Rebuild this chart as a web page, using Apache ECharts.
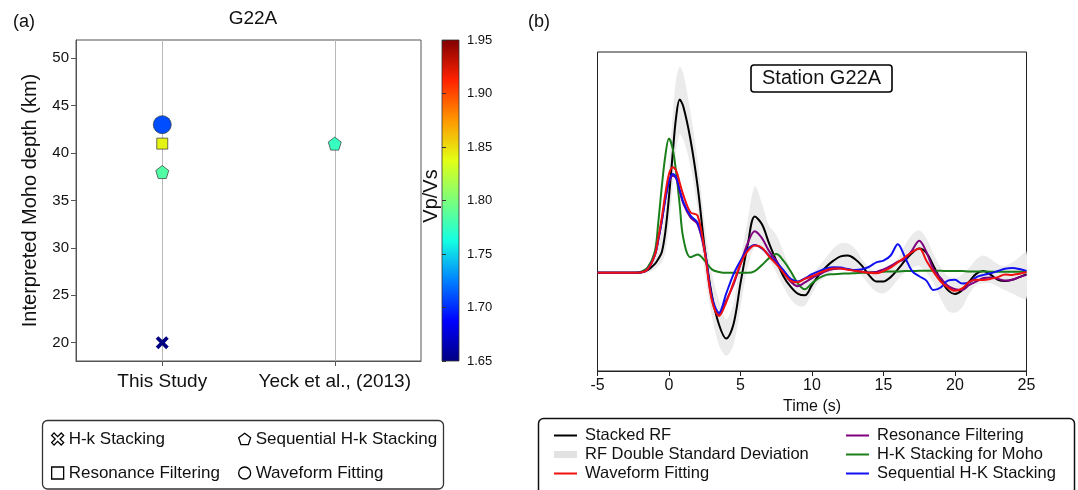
<!DOCTYPE html>
<html>
<head>
<meta charset="utf-8">
<title>G22A Moho depth and receiver functions</title>
<script src="https://cdn.jsdelivr.net/npm/echarts@6/dist/echarts.min.js"></script>
<style>
  html, body { margin: 0; padding: 0; background: #fff; }
  #chart { width: 1078px; height: 490px; }
</style>
</head>
<body>
<div id="chart"></div>
<script>
// ---- panel (a): Moho depth estimates at G22A ----
const studies = ['This Study', 'Yeck et al., (2013)'];
const methods = ['H-k Stacking', 'Resonance Filtering', 'Sequential H-k Stacking', 'Waveform Fitting'];
const mohoThisStudy = [20, 41, 38, 43];
const vpvsThisStudy = [1.65, 1.842, 1.785, 1.71];
const mohoYeck = [41];
const vpvsYeck = [1.775];
const depthTicks = [20, 25, 30, 35, 40, 45, 50];
const vpvsTicks = [1.65, 1.70, 1.75, 1.80, 1.85, 1.90, 1.95];

// ---- panel (b): receiver functions ----
const timeS = [-5, -2.5, -2, -1.5, -1, -0.75, -0.5, -0.25, 0, 0.25, 0.5, 0.75, 1,
  1.5, 2, 2.5, 3, 3.5, 4, 4.5, 5,
  5.5, 6, 6.5, 7, 7.5, 8, 8.5, 9, 9.5, 10,
  10.5, 11, 11.5, 12, 12.5, 13, 13.5, 14, 14.5, 15,
  15.5, 16, 16.5, 17, 17.5, 18, 18.5, 19, 19.5, 20,
  20.5, 21, 21.5, 22, 22.5, 23, 23.5, 24, 24.5, 25];

const stackedRF = [0, 0, 0.003, 0.015, 0.05, 0.08, 0.12, 0.24, 0.44, 0.68, 0.9, 1.0, 0.96,
  0.77, 0.5, 0.14, -0.13, -0.3, -0.38, -0.3, -0.06,
  0.16, 0.325, 0.28, 0.17, 0.07, -0.02, -0.08, -0.12, -0.13, -0.07,
  -0.01, 0.035, 0.07, 0.095, 0.1, 0.08, 0.04, -0.015, -0.05, -0.05,
  -0.025, 0.02, 0.07, 0.115, 0.14, 0.115, 0.04, -0.04, -0.1, -0.122,
  -0.1, -0.05, -0.005, 0.01, -0.012, -0.04, -0.047, -0.04, -0.025, -0.008];

const waveformFit = [0, 0, 0.002, 0.02, 0.1, 0.2, 0.32, 0.46, 0.57, 0.61, 0.59, 0.52, 0.45,
  0.35, 0.33, 0.12, -0.16, -0.25, -0.17, -0.06, 0.05,
  0.125, 0.158, 0.145, 0.095, 0.05, 0.0, -0.045, -0.055, -0.035, -0.02,
  0.0, 0.015, 0.025, 0.025, 0.018, 0.012, 0.006, 0.0, -0.003, 0.01,
  0.03, 0.06, 0.09, 0.12, 0.14, 0.07, 0.005, -0.05, -0.085, -0.104,
  -0.09, -0.052, -0.04, -0.042, -0.035, -0.025, -0.01, -0.012, -0.005, 0.005];

const resonanceFilt = [0, 0, 0.002, 0.02, 0.1, 0.19, 0.3, 0.43, 0.52, 0.56, 0.545, 0.47, 0.4,
  0.32, 0.28, 0.12, -0.15, -0.24, -0.16, -0.07, 0.05,
  0.17, 0.24, 0.2, 0.125, 0.07, 0.005, -0.05, -0.077, -0.055, -0.03,
  -0.01, 0.01, 0.022, 0.025, 0.02, 0.012, 0.006, 0.002, 0.005, 0.02,
  0.04, 0.064, 0.08, 0.13, 0.185, 0.12, 0.02, -0.03, -0.075, -0.095,
  -0.1, -0.07, -0.05, -0.03, -0.027, -0.035, -0.045, -0.04, -0.025, -0.012];

const hkMoho = [0, 0, 0.005, 0.03, 0.12, 0.29, 0.5, 0.68, 0.775, 0.72, 0.58, 0.39, 0.2,
  0.09, 0.106, 0.07, 0.02, 0.005, 0, 0, 0,
  0, 0.01, 0.045, 0.085, 0.108, 0.07, 0.01, -0.06, -0.095, -0.06,
  -0.03, -0.012, -0.008, -0.005, -0.004, -0.002, 0, 0.002, 0.004, 0.006,
  0.008, 0.008, 0.01, 0.01, 0.012, 0.012, 0.012, 0.012, 0.01, 0.01,
  0.01, 0.008, 0.008, 0.008, 0.006, 0.006, 0.006, 0.006, 0.006, 0.006];

const seqHk = [0, 0, 0.002, 0.02, 0.1, 0.19, 0.3, 0.43, 0.53, 0.57, 0.55, 0.48, 0.41,
  0.33, 0.29, 0.13, -0.14, -0.23, -0.12, -0.01, 0.07,
  0.135, 0.16, 0.14, 0.1, 0.06, 0.015, -0.035, -0.05, -0.032, -0.008,
  0.01, 0.025, 0.032, 0.03, 0.022, 0.016, 0.02, 0.035, 0.06, 0.07,
  0.1, 0.165, 0.09, 0.01, -0.02, -0.045, -0.1, -0.085, -0.045, -0.04,
  -0.062, -0.055, -0.025, -0.012, -0.003, 0.01, 0.024, 0.028, 0.022, 0.01];

const bandLower = [0, 0, -0.005, 0.0, 0.02, 0.04, 0.06, 0.12, 0.28, 0.48, 0.7, 0.8, 0.77,
  0.62, 0.36, 0.0, -0.25, -0.42, -0.48, -0.42, -0.2,
  0.03, 0.15, 0.13, 0.08, 0.0, -0.08, -0.15, -0.19, -0.19, -0.12,
  -0.05, -0.02, 0.01, 0.03, 0.03, 0.01, -0.02, -0.07, -0.11, -0.12,
  -0.09, -0.04, 0.0, 0.03, 0.04, 0.0, -0.06, -0.15, -0.22, -0.23,
  -0.2, -0.12, -0.07, -0.06, -0.06, -0.08, -0.1, -0.12, -0.14, -0.15];

const bandUpper = [0, 0, 0.01, 0.04, 0.12, 0.17, 0.24, 0.37, 0.62, 0.9, 1.12, 1.19, 1.15,
  0.93, 0.65, 0.28, 0.0, -0.16, -0.27, -0.18, 0.08,
  0.3, 0.5, 0.4, 0.27, 0.22, 0.12, 0.02, -0.06, -0.06, -0.01,
  0.04, 0.09, 0.14, 0.17, 0.17, 0.14, 0.08, 0.03, 0.0, 0.01,
  0.03, 0.08, 0.16, 0.22, 0.245, 0.2, 0.11, 0.03, -0.02, -0.03,
  -0.01, 0.03, 0.08, 0.1, 0.08, 0.05, 0.04, 0.06, 0.09, 0.12];

const FONT = '"Liberation Sans", Arial, Helvetica, sans-serif';
const TEXT = '#111';
// matplotlib "jet", low -> high
const jetColors = ['#000080', '#0000ff', '#0080ff', '#14ffe2', '#7bff7b', '#e2ff14', '#ff9700', '#ff2100', '#800000'];
const xMarker = 'path://M2,0L5,3L8,0L10,2L7,5L10,8L8,10L5,7L2,10L0,8L3,5L0,2Z';
const pentagon = 'path://M5,0L10,3.63L8.09,9.51L1.91,9.51L0,3.63Z';
const lineIcon = 'path://M0,0H23V2H0Z';

const pairs = (ys) => timeS.map((t, i) => [t, ys[i]]);

const chart = echarts.init(document.getElementById('chart'), null, { renderer: 'canvas' });

// one scatter series per method (This Study column)
const methodSymbols = [xMarker, 'rect', pentagon, 'circle'];
const methodSizes = [13, 11, 13, 18];
const scatterSeries = methods.map((m, i) => ({
  name: m,
  type: 'scatter',
  xAxisIndex: 0,
  yAxisIndex: 0,
  symbol: methodSymbols[i],
  symbolSize: methodSizes[i],
  data: [[studies[0], mohoThisStudy[i], vpvsThisStudy[i]]],
  itemStyle: { borderColor: '#333', borderWidth: i === 0 ? 0 : 0.7, opacity: 1 },
  z: 3
}));
// grey guide lines through each study column
scatterSeries[0].markLine = {
  silent: true,
  z: 1,
  symbol: ['none', 'none'],
  label: { show: false },
  lineStyle: { color: '#b8b8b8', width: 1, type: 'solid' },
  data: studies.map(s => ({ xAxis: s }))
};
scatterSeries.push({
  name: studies[1],
  type: 'scatter',
  xAxisIndex: 0,
  yAxisIndex: 0,
  symbol: pentagon,
  symbolSize: 13,
  data: mohoYeck.map((d, i) => [studies[1], d, vpvsYeck[i]]),
  itemStyle: { borderColor: '#333', borderWidth: 0.7, opacity: 1 },
  z: 3
});

const rfLine = (name, ys, color) => ({
  name,
  type: 'line',
  xAxisIndex: 2,
  yAxisIndex: 2,
  data: pairs(ys),
  smooth: 0.35,
  symbol: 'none',
  color: color,
  lineStyle: { color: color, width: 2 },
  z: 3
});

const rfSeries = [
  {
    // grey envelope between bandLower and bandUpper
    name: 'RF Double Standard Deviation',
    type: 'custom',
    xAxisIndex: 2,
    yAxisIndex: 2,
    data: timeS.map((t, i) => [t, bandLower[i], bandUpper[i]]),
    encode: { x: 0, y: [1, 2] },
    itemStyle: { color: '#ebebeb' },
    clip: true,
    silent: true,
    z: 1,
    renderItem: (params, api) => {
      if (params.dataIndex !== 0) return null;
      const upper = timeS.map((t, i) => api.coord([t, bandUpper[i]]));
      const lower = timeS.map((t, i) => api.coord([t, bandLower[i]])).reverse();
      return {
        type: 'polygon',
        shape: { points: upper.concat(lower), smooth: 0.3 },
        style: { fill: '#ebebeb', stroke: null }
      };
    }
  },
  rfLine('Stacked RF', stackedRF, '#000000'),
  rfLine('H-K Stacking for Moho', hkMoho, '#1a7f1a'),
  rfLine('Resonance Filtering (RF)', resonanceFilt, '#800080'),
  rfLine('Sequential H-K Stacking', seqHk, '#1010f0'),
  rfLine('Waveform Fitting (RF)', waveformFit, '#f01010')
];

const cbStops = jetColors.slice().reverse().map((c, i, a) => ({ offset: i / (a.length - 1), color: c }));

const legendText = { fontFamily: FONT, fontSize: 17, color: TEXT, lineHeight: 20 };
const rfLegendText = { fontFamily: FONT, fontSize: 16.5, color: TEXT, lineHeight: 19, padding: [0, 0, 0, 3] };
const stripRF = (n) => n.replace(' (RF)', '');
const lineItem = (n) => ({ name: n, icon: lineIcon });

const option = {
  animation: false,
  textStyle: { fontFamily: FONT },
  title: [
    { text: '(a)', left: 13, top: 13, padding: 0, textStyle: { fontFamily: FONT, fontSize: 18, fontWeight: 'normal', color: TEXT } },
    { text: 'G22A', left: 253, top: 9, padding: 0, textAlign: 'center', textStyle: { fontFamily: FONT, fontSize: 19, fontWeight: 'normal', color: TEXT } },
    { text: '(b)', left: 528, top: 13, padding: 0, textStyle: { fontFamily: FONT, fontSize: 18, fontWeight: 'normal', color: TEXT } },
    {
      text: 'Station G22A', left: 751, top: 65, padding: [3, 11, 3, 11],
      borderColor: '#000', borderWidth: 1.6, borderRadius: 3,
      textStyle: { fontFamily: FONT, fontSize: 20, fontWeight: 'normal', color: TEXT, lineHeight: 21 }
    }
  ],
  grid: [
    { left: 76, top: 40, width: 345, height: 321, show: true, borderColor: '#555', borderWidth: 1, backgroundColor: 'transparent', outerBoundsMode: 'none' },
    { left: 442, top: 40, width: 17, height: 321, show: true, borderColor: '#333', borderWidth: 0.8,
      backgroundColor: { type: 'linear', x: 0, y: 0, x2: 0, y2: 1, colorStops: cbStops }, outerBoundsMode: 'none' },
    { left: 597.5, top: 52, width: 429, height: 319, show: true, borderColor: '#222', borderWidth: 1, backgroundColor: 'transparent', outerBoundsMode: 'none' }
  ],
  xAxis: [
    {
      gridIndex: 0, type: 'category', data: studies, boundaryGap: true,
      axisLine: { show: true, lineStyle: { color: '#555' } },
      axisTick: { show: true, alignWithLabel: true, length: 5, lineStyle: { color: '#555' } },
      axisLabel: { interval: 0, fontFamily: FONT, fontSize: 19, color: TEXT, margin: 11 },
      splitLine: { show: false }
    },
    { gridIndex: 1, type: 'value', min: 0, max: 1, show: false },
    {
      gridIndex: 2, type: 'value', min: -5, max: 25, interval: 5,
      axisLine: { show: true, onZero: false, lineStyle: { color: '#222' } },
      axisTick: { show: true, length: 5, lineStyle: { color: '#222' } },
      axisLabel: { fontFamily: FONT, fontSize: 16, color: TEXT, margin: 7 },
      splitLine: { show: false },
      name: 'Time (s)', nameLocation: 'middle', nameGap: 23,
      nameTextStyle: { fontFamily: FONT, fontSize: 16, color: TEXT }
    }
  ],
  yAxis: [
    {
      gridIndex: 0, type: 'value', min: 18.07, max: 51.93,
      axisLine: { show: true, onZero: false, lineStyle: { color: '#555' } },
      axisTick: { show: true, length: 5, customValues: depthTicks, lineStyle: { color: '#555' } },
      axisLabel: { customValues: depthTicks, fontFamily: FONT, fontSize: 15, color: TEXT, margin: 7 },
      splitLine: { show: false },
      name: 'Interpreted Moho depth (km)', nameLocation: 'middle', nameGap: 36, nameRotate: 90,
      nameTextStyle: { fontFamily: FONT, fontSize: 20, color: TEXT }
    },
    {
      gridIndex: 1, type: 'value', position: 'right', min: 1.65, max: 1.95,
      axisLine: { show: false },
      axisTick: { show: true, length: 4, customValues: vpvsTicks, lineStyle: { color: '#333' } },
      axisLabel: { customValues: vpvsTicks, formatter: v => v.toFixed(2), fontFamily: FONT, fontSize: 13, color: TEXT, margin: 8 },
      splitLine: { show: false }
    },
    { gridIndex: 2, type: 'value', min: -0.567, max: 1.275, show: false, splitLine: { show: false } }
  ],
  visualMap: {
    type: 'continuous',
    show: false,
    min: 1.65,
    max: 1.95,
    dimension: 2,
    seriesIndex: [0, 1, 2, 3, 4],
    inRange: { color: jetColors }
  },
  legend: [
    {
      data: [methods[0], methods[1]], orient: 'vertical', left: 51, top: 429,
      itemWidth: 12, itemHeight: 12, itemGap: 14, selectedMode: false, padding: 0,
      itemStyle: { color: '#fff', borderColor: '#000', borderWidth: 1.3 },
      textStyle: legendText
    },
    {
      data: [methods[2], methods[3]], orient: 'vertical', left: 238, top: 429,
      itemWidth: 12, itemHeight: 12, itemGap: 14, selectedMode: false, padding: 0,
      itemStyle: { color: '#fff', borderColor: '#000', borderWidth: 1.3 },
      textStyle: legendText
    },
    {
      data: [lineItem('Stacked RF'), { name: 'RF Double Standard Deviation', icon: 'rect', itemStyle: { color: '#e2e2e2' } }, lineItem('Waveform Fitting (RF)')],
      formatter: stripRF, orient: 'vertical', left: 554, top: 426,
      itemWidth: 23, itemHeight: 7, itemGap: 0, selectedMode: false, padding: 0, symbolKeepAspect: true,
      textStyle: rfLegendText
    },
    {
      data: ['Resonance Filtering (RF)', 'H-K Stacking for Moho', 'Sequential H-K Stacking'].map(lineItem),
      formatter: stripRF, orient: 'vertical', left: 846, top: 426,
      itemWidth: 23, itemHeight: 7, itemGap: 0, selectedMode: false, padding: 0, symbolKeepAspect: true,
      textStyle: rfLegendText
    }
  ],
  graphic: [
    { type: 'rect', silent: true, shape: { x: 42.5, y: 420.5, width: 401, height: 68.5, r: 5 }, style: { fill: 'none', stroke: '#333', lineWidth: 1.3 } },
    { type: 'rect', silent: true, shape: { x: 538.5, y: 418.5, width: 536, height: 90, r: 5 }, style: { fill: 'none', stroke: '#111', lineWidth: 1.5 } },
    {
      type: 'text', silent: true, x: 431, y: 196, rotation: Math.PI / 2,
      style: { text: 'Vp/Vs', font: '20px ' + FONT, fill: TEXT, textAlign: 'center', textVerticalAlign: 'middle' }
    }
  ],
  series: scatterSeries.concat(rfSeries)
};

chart.setOption(option);
</script>
</body>
</html>
